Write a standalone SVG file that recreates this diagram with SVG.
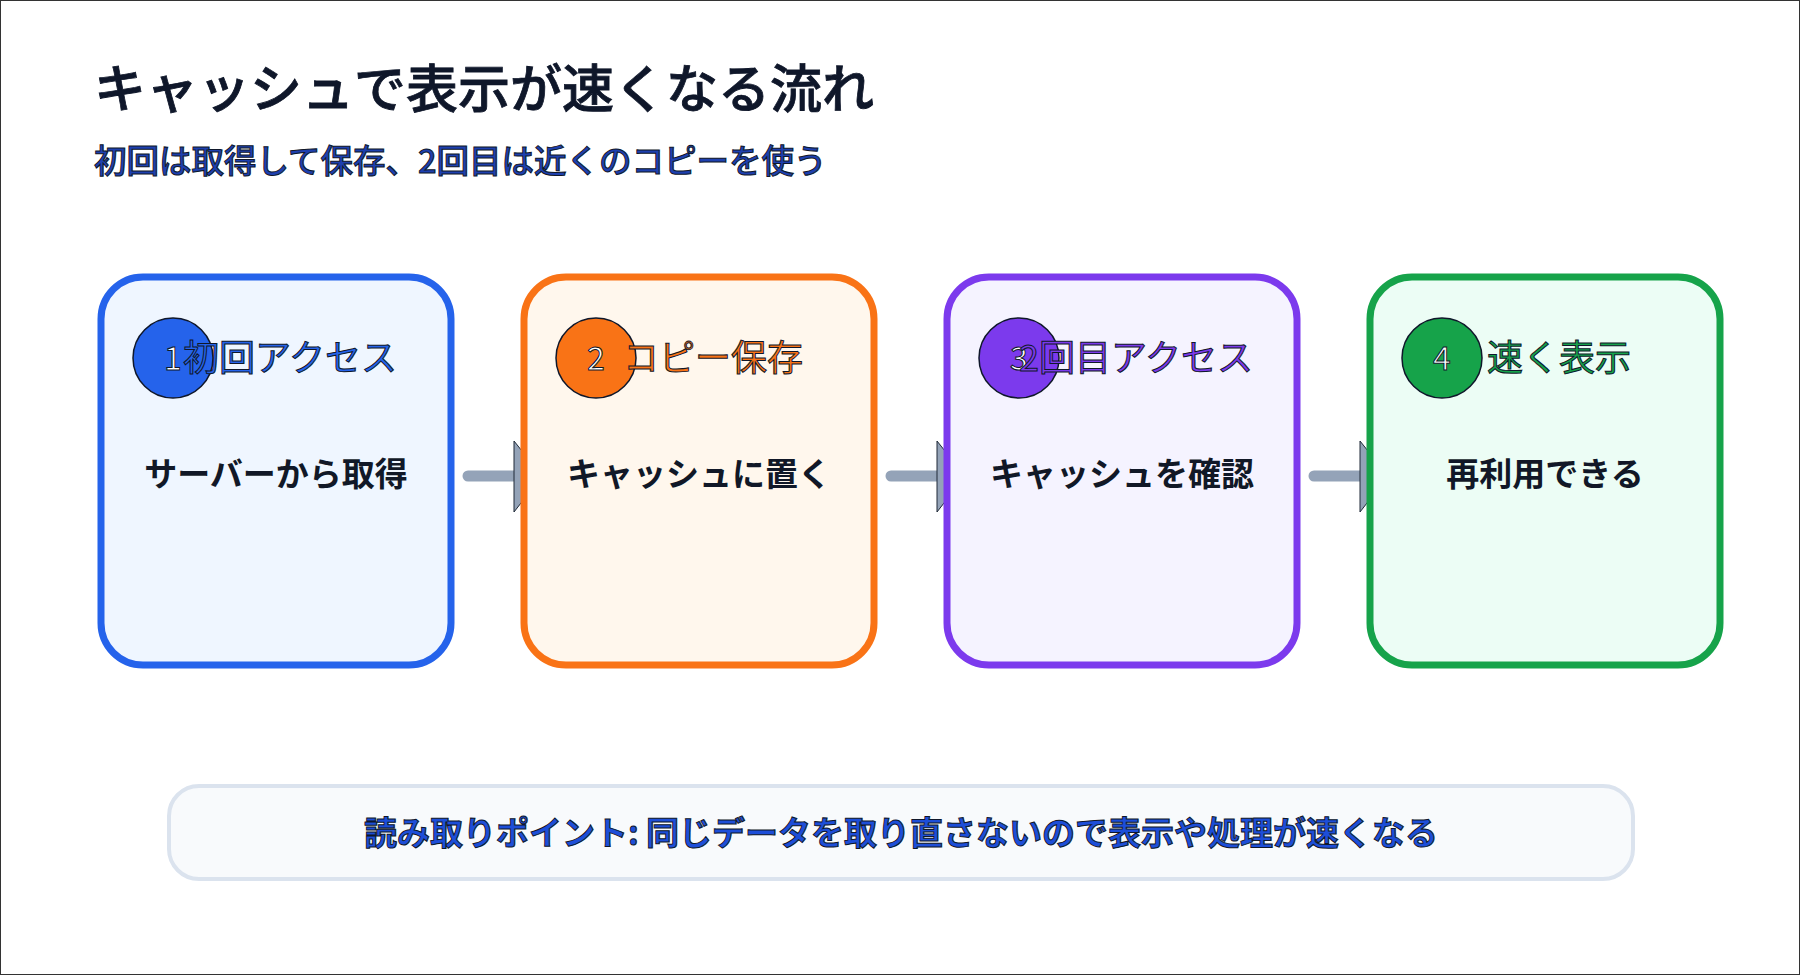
<svg xmlns="http://www.w3.org/2000/svg" width="1800" height="975" viewBox="0 0 1800 975">
<style>
text{font-family:"Noto Sans CJK JP","Noto Sans",sans-serif}
.ttl{font-size:36px;stroke:#0f172a;stroke-width:1;text-anchor:middle}
.num{font-size:32px;fill:#fff;stroke:#0f172a;stroke-width:1;text-anchor:middle}
.body{font-size:33px;font-weight:bold;fill:#111827;text-anchor:middle}
.box{stroke-width:7}
.conn line{stroke:#94a3b8;stroke-width:11;stroke-linecap:round}
.conn polygon{fill:#94a3b8;stroke:#1f2937;stroke-width:1}
</style>
<rect x="0.5" y="0.5" width="1799" height="974" fill="#fff" stroke="#333" stroke-width="1"/>
<text x="94" y="108" font-size="52" font-weight="500" fill="#0f172a" stroke="#0f172a" stroke-width="0.8">キャッシュで表示が速くなる流れ</text>
<text x="94" y="173" font-size="32.5" font-weight="500" fill="#1e40af" stroke="#0f172a" stroke-width="1">初回は取得して保存、2回目は近くのコピーを使う</text>
<g id="connectors" class="conn">
<line x1="468" y1="476" x2="516" y2="476"/><polygon points="514,441 542,476 514,512"/>
<line x1="891" y1="476" x2="939" y2="476"/><polygon points="937,441 965,476 937,512"/>
<line x1="1314" y1="476" x2="1362" y2="476"/><polygon points="1360,441 1388,476 1360,512"/>
</g>
<g id="node1">
<rect class="box" x="101" y="277" width="350" height="388" rx="42" fill="#eff6ff" stroke="#2563eb"/>
<circle cx="173" cy="358" r="40" fill="#2563eb" stroke="#0f172a" stroke-width="1.5"/>
<text class="num" x="173" y="370">1</text>
<text class="ttl" x="290" y="371" fill="#2563eb">初回アクセス</text>
<text class="body" x="276" y="486">サーバーから取得</text>
</g>
<g id="node2">
<rect class="box" x="524" y="277" width="350" height="388" rx="42" fill="#fff7ed" stroke="#f97316"/>
<circle cx="596" cy="358" r="40" fill="#f97316" stroke="#0f172a" stroke-width="1.5"/>
<text class="num" x="596" y="370">2</text>
<text class="ttl" x="713" y="371" fill="#f97316">コピー保存</text>
<text class="body" x="699" y="486">キャッシュに置く</text>
</g>
<g id="node3">
<rect class="box" x="947" y="277" width="350" height="388" rx="42" fill="#f5f3ff" stroke="#7c3aed"/>
<circle cx="1019" cy="358" r="40" fill="#7c3aed" stroke="#0f172a" stroke-width="1.5"/>
<text class="num" x="1019" y="370">3</text>
<text class="ttl" x="1136" y="371" fill="#7c3aed">2回目アクセス</text>
<text class="body" x="1122" y="486">キャッシュを確認</text>
</g>
<g id="node4">
<rect class="box" x="1370" y="277" width="350" height="388" rx="42" fill="#ecfdf5" stroke="#16a34a"/>
<circle cx="1442" cy="358" r="40" fill="#16a34a" stroke="#0f172a" stroke-width="1.5"/>
<text class="num" x="1442" y="370">4</text>
<text class="ttl" x="1559" y="371" fill="#16a34a">速く表示</text>
<text class="body" x="1545" y="486">再利用できる</text>
</g>
<g id="note">
<rect x="169" y="786" width="1464" height="93" rx="30" fill="#f8fafc" stroke="#dbe3ee" stroke-width="4"/>
<text x="901" y="845" font-size="33" font-weight="bold" fill="#1d4ed8" stroke="#0f172a" stroke-width="1" text-anchor="middle">読み取りポイント: 同じデータを取り直さないので表示や処理が速くなる</text>
</g>
</svg>
